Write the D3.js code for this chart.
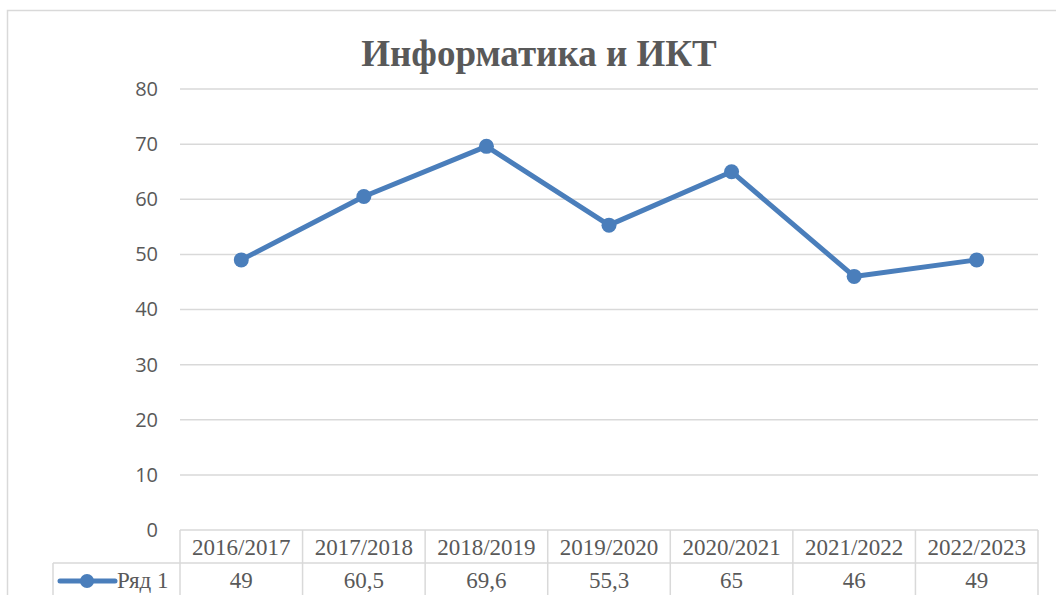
<!DOCTYPE html>
<html>
<head>
<meta charset="utf-8">
<script src="https://cdn.jsdelivr.net/npm/d3@7"></script>
<style>
  body { margin: 0; background: #fff; }
  svg { display: block; }
</style>
</head>
<body>
<script>
const title = "Информатика и ИКТ";
const seriesName = "Ряд 1";
const years = ["2016/2017", "2017/2018", "2018/2019", "2019/2020", "2020/2021", "2021/2022", "2022/2023"];
const values = [49, 60.5, 69.6, 55.3, 65, 46, 49];
const yTicks = [0, 10, 20, 30, 40, 50, 60, 70, 80];

const W = 1056, H = 595;
const plot = { left: 180, right: 1038, top: 89, bottom: 530 };
const rowH = 33;
const legendLeft = 53;
const blue = "#4A7EBB";
const grid = "#d9d9d9";
const textCol = "#595959";

const svg = d3.select("body").append("svg")
  .attr("width", W)
  .attr("height", H);

// chart border
svg.append("rect")
  .attr("x", 7.5).attr("y", 10.5)
  .attr("width", W + 10).attr("height", H + 10)
  .attr("fill", "none")
  .attr("stroke", grid)
  .attr("stroke-width", 1.5);

svg.append("text")
  .attr("x", 539).attr("y", 66)
  .attr("text-anchor", "middle")
  .attr("font-family", "'Liberation Serif', 'Times New Roman', serif")
  .attr("font-weight", "bold")
  .attr("font-size", 37)
  .attr("fill", textCol)
  .text(title);

const x = d3.scaleBand()
  .domain(years)
  .range([plot.left, plot.right]);

const y = d3.scaleLinear()
  .domain([0, 80])
  .range([plot.bottom, plot.top]);

// gridlines
svg.append("g")
  .selectAll("line")
  .data(yTicks.filter(d => d > 0))
  .join("line")
  .attr("x1", plot.left).attr("x2", plot.right)
  .attr("y1", d => y(d)).attr("y2", d => y(d))
  .attr("stroke", grid)
  .attr("stroke-width", 1.5);

// y axis labels
const yAxis = svg.append("g")
  .attr("transform", `translate(${plot.left},0)`)
  .call(d3.axisLeft(y).tickValues(yTicks).tickSize(0).tickPadding(22));
yAxis.select(".domain").remove();
yAxis.selectAll("text")
  .attr("font-family", "'Open Sans', 'Liberation Sans', sans-serif")
  .attr("font-size", 20)
  .attr("fill", textCol);

// data table
const tbl = svg.append("g");
const tableStroke = (sel) => sel.attr("stroke", grid).attr("stroke-width", 1.5);

tbl.append("line").call(tableStroke)
  .attr("x1", plot.left).attr("x2", plot.right)
  .attr("y1", plot.bottom).attr("y2", plot.bottom);
tbl.append("line").call(tableStroke)
  .attr("x1", legendLeft).attr("x2", plot.right)
  .attr("y1", plot.bottom + rowH).attr("y2", plot.bottom + rowH);
const edges = years.map(d => x(d)).concat([plot.right]);
tbl.selectAll("line.v")
  .data(edges)
  .join("line")
  .attr("class", "v")
  .call(tableStroke)
  .attr("x1", d => d).attr("x2", d => d)
  .attr("y1", plot.bottom).attr("y2", H + 2);
tbl.append("line").call(tableStroke)
  .attr("x1", legendLeft).attr("x2", legendLeft)
  .attr("y1", plot.bottom + rowH).attr("y2", H + 2);

const serif = "'Liberation Serif', 'Times New Roman', serif";
const cellSize = 23;
tbl.selectAll("text.yr")
  .data(years)
  .join("text")
  .attr("class", "yr")
  .attr("x", d => x(d) + x.bandwidth() / 2)
  .attr("y", plot.bottom + 25)
  .attr("text-anchor", "middle")
  .attr("font-family", serif)
  .attr("font-size", cellSize)
  .attr("fill", textCol)
  .text(d => d);

const fmt = v => String(v).replace(".", ",");
tbl.selectAll("text.val")
  .data(values)
  .join("text")
  .attr("class", "val")
  .attr("x", (d, i) => x(years[i]) + x.bandwidth() / 2)
  .attr("y", plot.bottom + rowH + 25)
  .attr("text-anchor", "middle")
  .attr("font-family", serif)
  .attr("font-size", cellSize)
  .attr("fill", textCol)
  .text(fmt);

// legend key
const ly = plot.bottom + rowH + 18;
tbl.append("line")
  .attr("x1", 60).attr("x2", 115)
  .attr("y1", ly).attr("y2", ly)
  .attr("stroke", blue)
  .attr("stroke-width", 5)
  .attr("stroke-linecap", "round");
tbl.append("circle")
  .attr("cx", 87).attr("cy", ly).attr("r", 7)
  .attr("fill", blue);
tbl.append("text")
  .attr("x", 117).attr("y", plot.bottom + rowH + 25)
  .attr("font-family", serif)
  .attr("font-size", cellSize)
  .attr("fill", textCol)
  .text(seriesName);

// series line
const line = d3.line()
  .x((d, i) => x(years[i]) + x.bandwidth() / 2)
  .y(d => y(d));

svg.append("path")
  .datum(values)
  .attr("d", line)
  .attr("fill", "none")
  .attr("stroke", blue)
  .attr("stroke-width", 5)
  .attr("stroke-linejoin", "round");

svg.append("g")
  .selectAll("circle")
  .data(values)
  .join("circle")
  .attr("cx", (d, i) => x(years[i]) + x.bandwidth() / 2)
  .attr("cy", d => y(d))
  .attr("r", 7.5)
  .attr("fill", blue);
</script>
</body>
</html>
